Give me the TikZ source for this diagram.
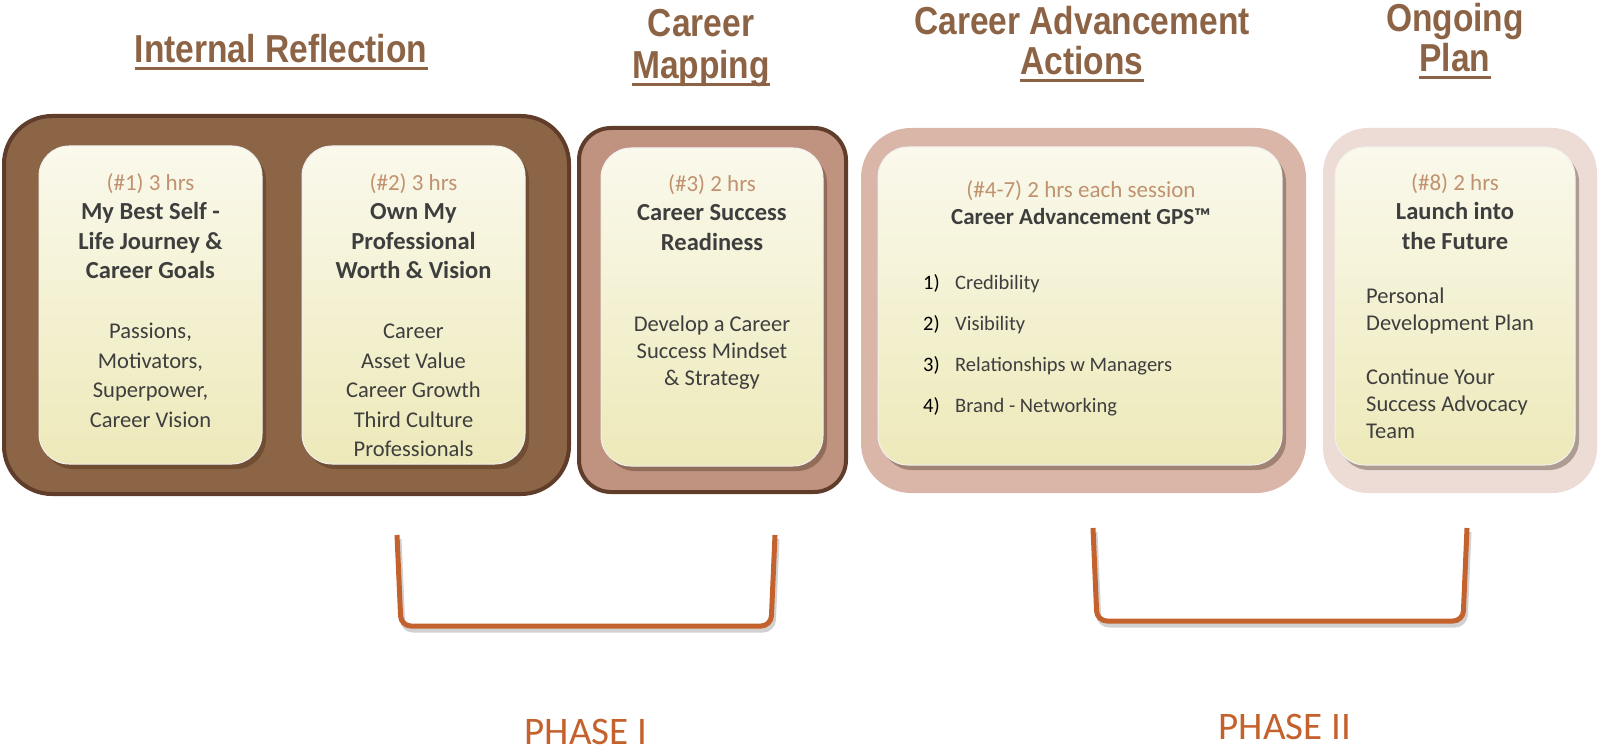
\documentclass[tikz,border=0pt]{standalone}
\usepackage{fontspec}
\setmainfont{Carlito}
\newfontfamily\headfont[FakeStretch=0.86]{Liberation Sans}
\usetikzlibrary{shadows}

\definecolor{headbrown}{RGB}{140,99,69}
\definecolor{frame}{RGB}{96,60,42}
\definecolor{boxa}{RGB}{140,100,70}
\definecolor{boxb}{RGB}{192,146,128}
\definecolor{boxc}{RGB}{217,182,168}
\definecolor{boxd}{RGB}{236,220,213}
\definecolor{cardtop}{RGB}{250,249,236}
\definecolor{cardbot}{RGB}{237,233,185}
\definecolor{hrs}{RGB}{192,146,112}
\definecolor{ink}{RGB}{62,62,62}
\definecolor{phase}{RGB}{196,98,45}

\newcommand{\hrsline}[1]{{\color{hrs}\fontsize{23}{29.5}\selectfont #1}}
\newcommand{\ttl}[1]{{\bfseries\fontsize{24.5}{29.5}\selectfont #1}}

\tikzset{
  grpbox/.style={inner sep=0pt, outer sep=0pt},
  cardbox/.style={draw=white!88!gray, line width=1pt, rounded corners=30pt,
    top color=cardtop, bottom color=cardbot, inner sep=0pt,
    drop shadow={shadow xshift=4pt, shadow yshift=-5pt, opacity=.35, fill=black!70!brown}},
  headtxt/.style={font=\headfont\bfseries\fontsize{39}{42}\selectfont, text=headbrown, inner sep=0pt, anchor=base},
  headline/.style={draw=headbrown, line width=3pt},
  cardtxt/.style={font=\fontsize{22.5}{29.5}\selectfont, text=ink, inner sep=0pt, align=center, anchor=north},
  phasebracket/.style={draw=phase, line width=5pt, rounded corners=10pt,
    preaction={draw=black, opacity=.18, line width=5pt, transform canvas={shift={(2pt,-4pt)}}}},
  phasetxt/.style={font=\fontsize{39}{42}\selectfont, text=phase, inner sep=0pt, anchor=base},
}

\begin{document}
\begin{tikzpicture}[x=1pt,y=-1pt]
  \useasboundingbox (0,0) rectangle (1598,751);

  \node[grpbox, fill=boxa, draw=frame, line width=4pt, rounded corners=48pt,
    minimum width=565pt, minimum height=378pt] (g-1) at (286.5,305) {};
  \node[grpbox, fill=boxb, draw=frame, line width=4pt, rounded corners=32pt,
    minimum width=267pt, minimum height=364pt] (g-2) at (712.5,310) {};
  \node[grpbox, fill=boxc, rounded corners=50pt,
    minimum width=445pt, minimum height=365pt] (g-3) at (1083.5,310.5) {};
  \node[grpbox, fill=boxd, rounded corners=45pt,
    minimum width=274pt, minimum height=365pt] (g-4) at (1460,310.5) {};

  \foreach \n/\x/\y/\w in {1/150.5/305/223, 2/413.5/305/223, 3/712/307/222, 4/1080/306/404, 5/1455/306/240} {
    \node[cardbox, minimum width=\w pt, minimum height=318pt] (c-\n) at (\x,\y) {};
  }

  \node[cardtxt] (t-1) at (150.5,173) {\hrsline{(\#1) 3 hrs}\\\ttl{My Best Self -}\\\ttl{Life Journey \&}\\\ttl{Career Goals}};
  \node[cardtxt] (b-1) at (150.5,323) {Passions,\\Motivators,\\Superpower,\\Career Vision};

  \node[cardtxt] (t-2) at (413.5,173) {\hrsline{(\#2) 3 hrs}\\\ttl{Own My}\\\ttl{Professional}\\\ttl{Worth \& Vision}};
  \node[cardtxt] (b-2) at (413.5,324) {Career\\Asset Value\\Career Growth\\Third Culture\\Professionals};

  \node[cardtxt] (t-3) at (712,174) {\hrsline{(\#3) 2 hrs}\\\ttl{Career Success}\\\ttl{Readiness}};
  \node[cardtxt, font=\fontsize{22.5}{27}\selectfont] (b-3) at (712,316) {Develop a Career\\Success Mindset\\\& Strategy};

  \node[cardtxt, font=\fontsize{22.5}{27.5}\selectfont] (t-4) at (1081,180) {\hrsline{(\#4-7) 2 hrs each session}\\{\bfseries\fontsize{23}{27.5}\selectfont Career Advancement GPS™}};
  \node[cardtxt, align=left, anchor=north west, font=\fontsize{20.5}{41}\selectfont] (b-4) at (923,274)
    {\makebox[32pt][l]{\color{black}1)}Credibility\\\makebox[32pt][l]{\color{black}2)}Visibility\\
     \makebox[32pt][l]{\color{black}3)}Relationships w Managers\\\makebox[32pt][l]{\color{black}4)}Brand - Networking};

  \node[cardtxt] (t-5) at (1455,173) {\hrsline{(\#8) 2 hrs}\\\ttl{Launch into}\\\ttl{the Future}};
  \node[cardtxt, align=left, anchor=north west, font=\fontsize{22.5}{27}\selectfont] (b-5) at (1366,288)
    {Personal\\Development Plan\\[27pt]Continue Your\\Success Advocacy\\Team};

  \node[headtxt] (h-1) at (281,63) {Internal Reflection};
  \node[headtxt] (h-2a) at (701,36.5) {Career};
  \node[headtxt] (h-2) at (701,78.5) {Mapping};
  \node[headtxt] (h-3a) at (1082,34.5) {Career Advancement};
  \node[headtxt] (h-3) at (1082,74.5) {Actions};
  \node[headtxt] (h-4a) at (1455,31.5) {Ongoing};
  \node[headtxt] (h-4) at (1455,71.5) {Plan};
  \foreach \h in {1,2,3,4} {
    \draw[headline] ([yshift=-6pt]h-\h.base west) -- ([yshift=-6pt]h-\h.base east);
  }

  \coordinate (p1-a) at (397,535);
  \coordinate (p1-b) at (401,626);
  \coordinate (p1-c) at (771,626);
  \coordinate (p1-d) at (775,535);
  \coordinate (p2-a) at (1093,528);
  \coordinate (p2-b) at (1097,621);
  \coordinate (p2-c) at (1463,621);
  \coordinate (p2-d) at (1467,528);
  \foreach \p in {1,2} {
    \draw[phasebracket] (p\p-a) -- (p\p-b) -- (p\p-c) -- (p\p-d);
  }

  \node[phasetxt] (ph-1) at (586,744) {PHASE I};
  \node[phasetxt] (ph-2) at (1285,739) {PHASE II};

\end{tikzpicture}
\end{document}
